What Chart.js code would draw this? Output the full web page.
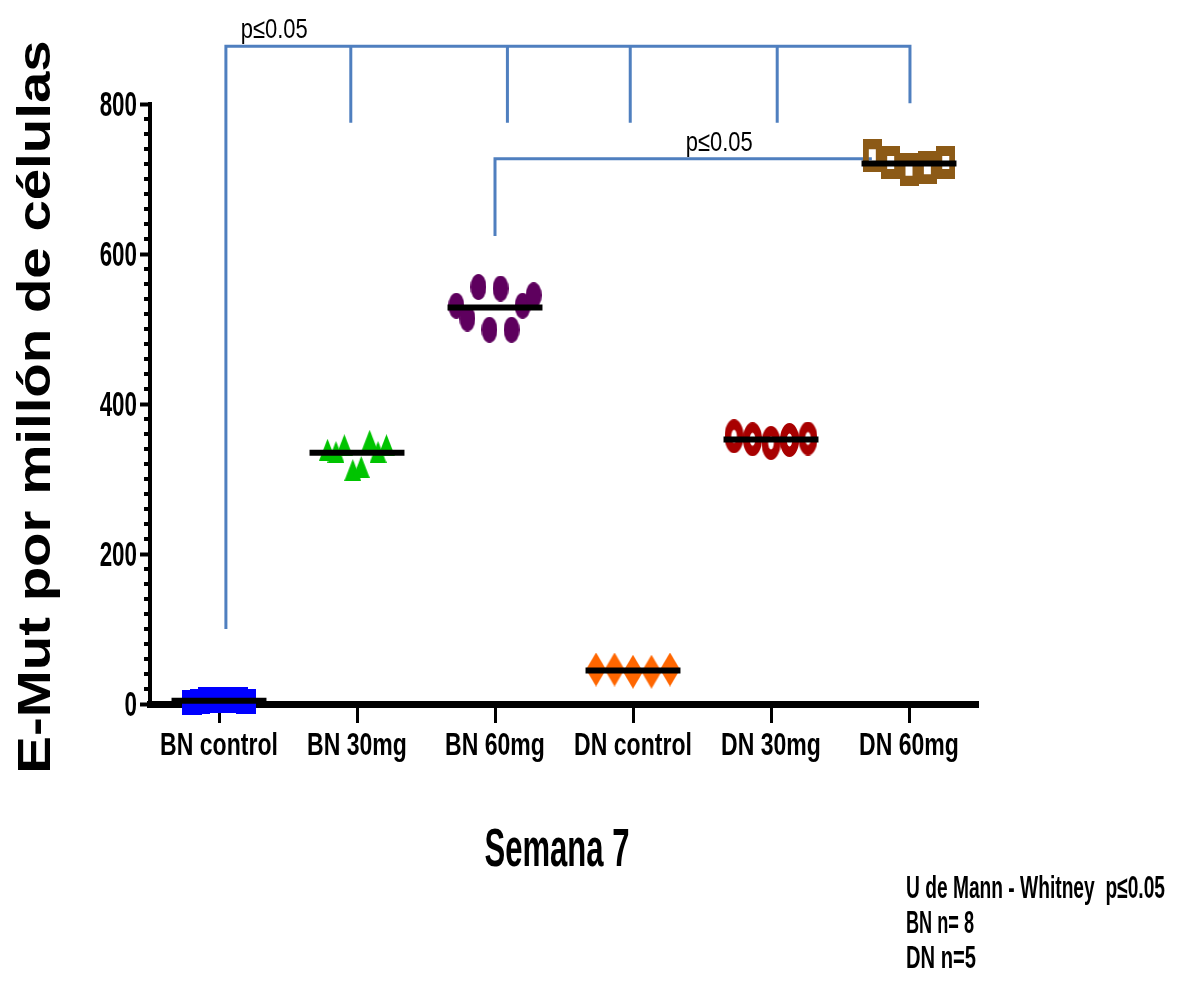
<!DOCTYPE html>
<html>
<head>
<meta charset="utf-8">
<title>E-Mut por millón de células – Semana 7</title>
<script src="https://cdn.jsdelivr.net/npm/chart.js@4.4.1/dist/chart.umd.min.js"></script>
<style>
  html, body { margin: 0; padding: 0; background: #ffffff; }
  canvas { display: block; }
</style>
</head>
<body>
<canvas id="chart" width="1179" height="986"></canvas>
<script>
// ---- data ----
const groups = ['BN control', 'BN 30mg', 'BN 60mg', 'DN control', 'DN 30mg', 'DN 60mg'];
const bnControl = [2, 3, 6, 5, 6, 5, 6, 3];
const bn30mg = [339, 336, 345, 312, 316, 351, 336, 345];
const bn60mg = [531, 514, 556, 499, 554, 499, 531, 545];
const dnControl = [46, 46, 43, 43, 46];
const dn30mg = [357, 353, 348, 352, 354];
const dn60mg = [731, 722, 713, 715, 722];
const yTicks = [0, 200, 400, 600, 800];

const yTitle = 'E-Mut por millón de células';
const xTitle = 'Semana 7';
const pLabel = 'p\u22640.05';
const notes = ['U de Mann - Whitney  p\u22640.05', 'BN n= 8', 'DN n=5'];

// ---- styling ----
const FONT = '"Liberation Sans", Arial, "DejaVu Sans", sans-serif';
const BRACKET = '#4f7fbf';

// horizontal spread of the dots inside each column (category units)
const spread = [0.055, 0.061, 0.08, 0.134, 0.134, 0.133];

function marker(w, h, paint) {
  const c = document.createElement('canvas');
  c.width = w; c.height = h;
  paint(c.getContext('2d'), w, h);
  return c;
}
function punch(g, paintHole) {
  g.globalCompositeOperation = 'destination-out';
  g.beginPath(); paintHole(); g.fill();
  g.globalCompositeOperation = 'source-over';
}
const markers = [
  marker(20, 25, (g, w, h) => { g.fillStyle = '#0000ff'; g.fillRect(0, 0, w, h); }),
  marker(17, 22, (g, w, h) => {
    g.fillStyle = '#00c400'; g.beginPath();
    g.moveTo(w / 2, 0); g.lineTo(w, h); g.lineTo(0, h); g.closePath(); g.fill();
  }),
  marker(16, 26, (g, w, h) => {
    g.fillStyle = '#5e005e'; g.beginPath();
    g.ellipse(w / 2, h / 2, w / 2, h / 2, 0, 0, Math.PI * 2); g.fill();
  }),
  marker(20, 34, (g, w, h) => {
    g.fillStyle = '#ff6600'; g.beginPath();
    g.moveTo(w / 2, 0); g.lineTo(w, h / 2); g.lineTo(w / 2, h); g.lineTo(0, h / 2); g.closePath(); g.fill();
  }),
  marker(19, 34, (g, w, h) => {
    g.fillStyle = '#a80000'; g.beginPath();
    g.ellipse(w / 2, h / 2, w / 2, h / 2, 0, 0, Math.PI * 2); g.fill();
    punch(g, () => g.ellipse(w / 2, h / 2, 2.8, 6.5, 0, 0, Math.PI * 2));
  }),
  marker(19, 33, (g, w, h) => {
    g.fillStyle = '#8c5a16'; g.fillRect(0, 0, w, h);
    punch(g, () => g.rect(w / 2 - 3.5, h / 2 - 6.5, 7, 13));
  })
];

const series = [bnControl, bn30mg, bn60mg, dnControl, dn30mg, dn60mg];

const datasets = series.map((vals, g) => ({
  label: groups[g],
  data: vals.map((v, i) => ({ x: g + (i - (vals.length - 1) / 2) * spread[g], y: v })),
  pointStyle: markers[g],
  pointRadius: 10,
  pointHoverRadius: 10,
  showLine: false,
  clip: false
}));

const mean = a => a.reduce((s, v) => s + v, 0) / a.length;

// significance brackets, in data units: [x-category, y-value]
const brackets = [
  { y: 877, from: 0.05, to: 5.007, drops: [[0.05, 100], [0.955, 775], [2.09, 775], [2.98, 775], [4.045, 775], [5.007, 801]],
    text: { x: 0.40, y: 888 } },
  { y: 727, from: 2.0, to: 4.72, drops: [[2.0, 624]], text: { x: 3.625, y: 737 } }
];

// draws text with an independent horizontal squeeze
function squeezed(ctx, str, x, baseline, font, sx, align) {
  ctx.save();
  ctx.translate(x, baseline);
  ctx.scale(sx, 1);
  ctx.font = font;
  ctx.fillStyle = '#000';
  ctx.textAlign = align;
  ctx.textBaseline = 'alphabetic';
  ctx.fillText(str, 0, 0);
  ctx.restore();
}
// squeezes text so that it spans the given width
function fitted(ctx, str, x, baseline, font, width, align) {
  ctx.save();
  ctx.font = font;
  const w = ctx.measureText(str).width;
  ctx.restore();
  squeezed(ctx, str, x, baseline, font, width / w, align);
}

const decor = {
  id: 'decor',
  beforeDatasetsDraw(chart) {
    const { ctx, scales: { x, y } } = chart;
    ctx.save();
    ctx.strokeStyle = BRACKET;
    ctx.lineWidth = 3;
    ctx.lineCap = 'butt';
    brackets.forEach(b => {
      const yy = y.getPixelForValue(b.y);
      ctx.beginPath();
      ctx.moveTo(x.getPixelForValue(b.from) - 1.5, yy);
      ctx.lineTo(x.getPixelForValue(b.to) + 1.5, yy);
      b.drops.forEach(([cx, cy]) => {
        const px = x.getPixelForValue(cx);
        ctx.moveTo(px, yy);
        ctx.lineTo(px, y.getPixelForValue(cy));
      });
      ctx.stroke();
      fitted(ctx, pLabel, x.getPixelForValue(b.text.x), y.getPixelForValue(b.text.y),
        '28px ' + FONT, 67, 'center');
    });
    ctx.restore();
  },
  afterDatasetsDraw(chart) {
    const { ctx, scales: { x, y } } = chart;
    ctx.save();
    // group means
    ctx.strokeStyle = '#000';
    ctx.lineWidth = 6;
    series.forEach((vals, g) => {
      const yy = y.getPixelForValue(mean(vals));
      ctx.beginPath();
      ctx.moveTo(x.getPixelForValue(g - 0.344), yy);
      ctx.lineTo(x.getPixelForValue(g + 0.344), yy);
      ctx.stroke();
    });
    // minor ticks on the value axis
    ctx.lineWidth = 4;
    const left = chart.chartArea.left;
    for (let v = 20; v < 800; v += 20) {
      if (v % 200 === 0) continue;
      const yy = y.getPixelForValue(v);
      ctx.beginPath();
      ctx.moveTo(left - 6, yy);
      ctx.lineTo(left, yy);
      ctx.stroke();
    }
    ctx.restore();
  },
  afterDraw(chart) {
    const { ctx, scales: { x, y } } = chart;
    // tick labels
    x.ticks.forEach(t => {
      squeezed(ctx, groups[t.value], x.getPixelForValue(t.value), 755, 'bold 32px ' + FONT, 0.72, 'center');
    });
    y.ticks.forEach(t => {
      squeezed(ctx, String(t.value), 137, y.getPixelForValue(t.value) + 12, 'bold 35px ' + FONT, 0.64, 'right');
    });
    // value axis title
    ctx.save();
    ctx.translate(50, 407);
    ctx.rotate(-Math.PI / 2);
    ctx.scale(1.2, 1);
    ctx.font = 'bold 47px ' + FONT;
    ctx.fillStyle = '#000';
    ctx.textAlign = 'center';
    ctx.textBaseline = 'alphabetic';
    ctx.fillText(yTitle, 0, 0);
    ctx.restore();
    // category axis title
    fitted(ctx, xTitle, 557, 866, 'bold 53px ' + FONT, 145, 'center');
    // test notes
    const base = [898, 933, 968];
    const widths = [259, 68, 70];
    notes.forEach((t, i) => fitted(ctx, t, 906, base[i], 'bold 31px ' + FONT, widths[i], 'left'));
  }
};

new Chart(document.getElementById('chart'), {
  type: 'scatter',
  data: { datasets },
  options: {
    responsive: false,
    animation: false,
    devicePixelRatio: 1,
    layout: { padding: { left: 0, top: 104, right: 201, bottom: 0 } },
    plugins: { legend: { display: false }, tooltip: { enabled: false } },
    scales: {
      x: {
        type: 'linear',
        position: 'bottom',
        min: -0.5,
        max: 5.5,
        z: 1,
        afterBuildTicks: s => { s.ticks = groups.map((_, i) => ({ value: i })); },
        afterFit: s => { s.height = 282; },
        grid: { drawOnChartArea: false, tickLength: 19, tickWidth: 3, tickColor: '#000' },
        border: { display: true, color: '#000', width: 7 },
        ticks: { display: false }
      },
      y: {
        min: 0,
        max: 800,
        afterBuildTicks: s => { s.ticks = yTicks.map(v => ({ value: v })); },
        afterFit: s => { s.width = 150; },
        grid: { drawOnChartArea: false, tickLength: 10, tickWidth: 4, tickColor: '#000' },
        border: { display: true, color: '#000', width: 4 },
        ticks: { display: false }
      }
    }
  },
  plugins: [decor]
});
</script>
</body>
</html>
